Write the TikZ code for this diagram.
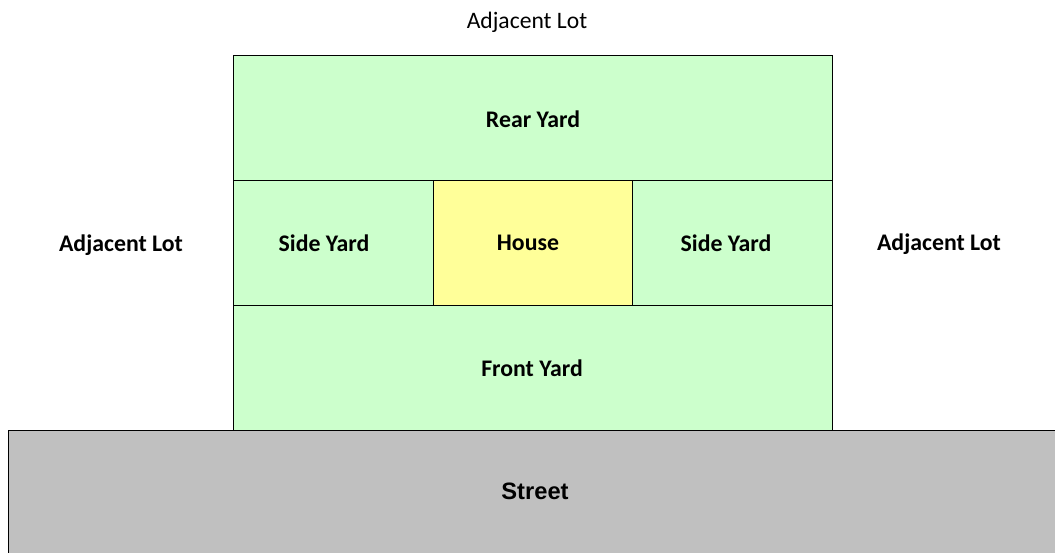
\documentclass[tikz,border=0pt]{standalone}
\usepackage{fontspec}
\setmainfont{Carlito}
\newfontfamily\arialfont{Liberation Sans}
\definecolor{yardgreen}{HTML}{CCFFCC}
\definecolor{houseyellow}{HTML}{FFFF99}
\definecolor{streetgray}{HTML}{C0C0C0}
\begin{document}
\begin{tikzpicture}[x=1pt,y=-1pt,
  area/.style={draw=black,line width=1pt},
  lbl/.style={font=\fontsize{23.8}{28}\selectfont\bfseries,inner sep=0pt},
  plain/.style={font=\fontsize{23.6}{28}\selectfont,inner sep=0pt}]
\useasboundingbox (0,0) rectangle (1055,552);
% street
\path[area,fill=streetgray] (8.7,430.3) rectangle (1070,570);
% yards
\path[area,fill=yardgreen] (233.5,55.3) rectangle (832.3,180.3);
\path[area,fill=yardgreen] (233.5,180.3) rectangle (433.3,305.3);
\path[area,fill=houseyellow] (433.3,180.3) rectangle (632.3,305.3);
\path[area,fill=yardgreen] (632.3,180.3) rectangle (832.3,305.3);
\path[area,fill=yardgreen] (233.5,305.3) rectangle (832.3,430.3);
% labels
\node[plain] (top) at (527,22) {Adjacent Lot};
\node[lbl] (left) at (121,245) {Adjacent Lot};
\node[lbl] (right) at (939,244) {Adjacent Lot};
\node[lbl] (rear) at (533,119) {Rear Yard};
\node[lbl] (sidel) at (324,243) {Side Yard};
\node[lbl] (house) at (528,243) {House};
\node[lbl] (sider) at (726,243) {Side Yard};
\node[lbl] (front) at (532,368) {Front Yard};
\node[lbl,font=\fontsize{23.7}{28}\selectfont\arialfont\bfseries] (street) at (535,491) {Street};
\end{tikzpicture}
\end{document}
